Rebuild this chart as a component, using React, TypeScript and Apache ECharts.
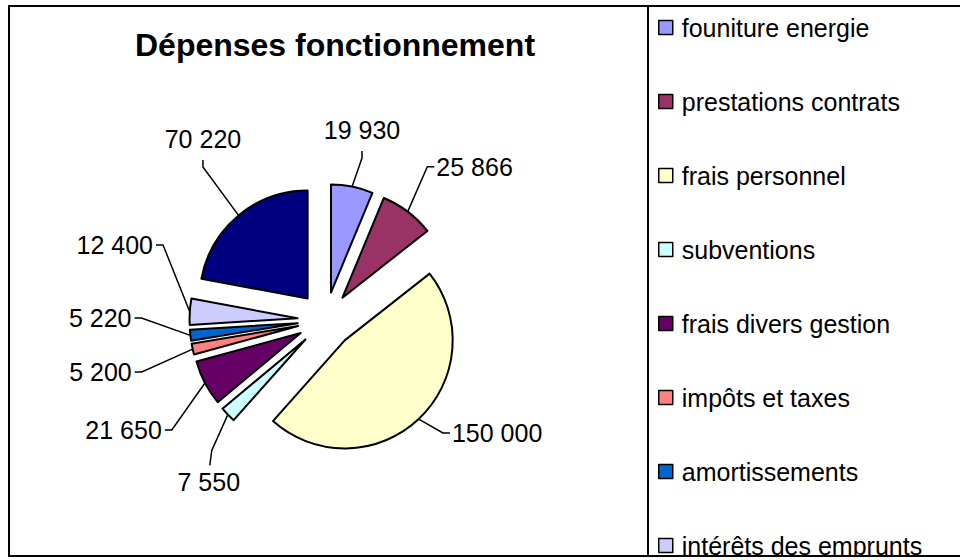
import React, { useEffect, useRef } from "react";
import * as echarts from "echarts";

const categories = [
  "founiture energie",
  "prestations contrats",
  "frais personnel",
  "subventions",
  "frais divers gestion",
  "impôts et taxes",
  "amortissements",
  "intérêts des emprunts",
  "virement investissement",
];
const values = [19930, 25866, 150000, 7550, 21650, 5200, 5220, 12400, 70220];
const colors = ["#9999FF", "#993366", "#FFFFCC", "#CCFFFF", "#660066", "#FF8080", "#0066CC", "#CCCCFF", "#000080"];
const legendNames = categories.slice(0, 8);
const title = "Dépenses fonctionnement";

// Manual label placement (as dragged in the original): angle (deg, clockwise from top) and distance from centre
const labelAngle = [12.7, 33.6, 133.9, 221.1, 234.4, 254.2, 270.6, 294.8, 321.3];
const labelDist = [166, 184, 163, 173, 189, 191, 184, 179, 196];
const labelSide = ["top", "right", "right", "bottom", "left", "left", "left", "left", "top"];

const fmt = (v: number) => String(v).replace(/\B(?=(\d{3})+(?!\d))/g, " ");

export default function App() {
  const ref = useRef<HTMLDivElement>(null);
  useEffect(() => {
    if (!ref.current) return;
    const chart = echarts.init(ref.current, null, { renderer: "svg" });
    const font = "'Liberation Sans', Arial, sans-serif";
    const CX = 325.5;
    const CY = 320;
    const R = 108;
    const OFF = 28;
    const D2R = Math.PI / 180;
    const total = values.reduce((a, b) => a + b, 0);
    const mids: number[] = [];
    let acc = 0;
    values.forEach((v) => {
      mids.push(((acc + v / 2) / total) * 360);
      acc += v;
    });

    const labelGraphics: any[] = [];
    values.forEach((v, i) => {
      const m = mids[i] * D2R;
      const sx = CX + Math.sin(m) * (R + OFF);
      const sy = CY - Math.cos(m) * (R + OFF);
      const a = labelAngle[i] * D2R;
      const ax = CX + Math.sin(a) * labelDist[i];
      const ay = CY - Math.cos(a) * labelDist[i];
      let tx = ax;
      let ty = ay;
      let ex = ax;
      let ey = ay;
      let align = "center";
      const side = labelSide[i];
      if (side === "top") {
        ey = ay - 7;
        ty = ay - 28;
      } else if (side === "bottom") {
        ex = ax - 2;
        ey = ay + 15;
        tx = ax - 3;
        ty = ay + 32;
      } else if (side === "right") {
        ex = ax + 7;
        tx = ax + 9;
        align = "left";
      } else {
        ex = ax - 7;
        tx = ax - 10;
        align = "right";
      }
      labelGraphics.push({
        type: "polyline",
        z: 50,
        silent: true,
        shape: { points: [[sx, sy], [ax, ay], [ex, ey]] },
        style: { stroke: "#000", lineWidth: 1.5, fill: null },
      });
      labelGraphics.push({
        type: "text",
        z: 50,
        silent: true,
        x: tx,
        y: ty,
        style: {
          text: fmt(v),
          font: `25px ${font}`,
          fill: "#000",
          align,
          verticalAlign: "middle",
          textAlign: align,
          textVerticalAlign: "middle",
        },
      });
    });

    chart.setOption({
      animation: false,
      backgroundColor: "#ffffff",
      title: {
        text: title,
        left: 330,
        top: 24,
        textAlign: "center",
        textStyle: { fontFamily: font, fontSize: 32, fontWeight: "bold", color: "#000" },
      },
      legend: {
        orient: "vertical",
        left: 658,
        top: 15,
        height: 900,
        padding: 0,
        data: legendNames,
        icon: "rect",
        itemWidth: 14,
        itemHeight: 14,
        itemGap: 49,
        selectedMode: false,
        itemStyle: { borderColor: "#000", borderWidth: 1.5 },
        textStyle: { fontFamily: font, fontSize: 25, color: "#000", padding: [0, 0, 0, 4] },
      },
      series: [
        {
          type: "pie",
          center: [CX, CY],
          radius: [0, R],
          startAngle: 90,
          clockwise: true,
          selectedMode: "multiple",
          selectedOffset: OFF,
          itemStyle: { borderColor: "#000", borderWidth: 2 },
          emphasis: { disabled: true },
          label: { show: false },
          labelLine: { show: false },
          data: categories.map((n, i) => ({
            name: n,
            value: values[i],
            selected: true,
            itemStyle: { color: colors[i] },
          })),
        },
      ],
      graphic: [
        ...labelGraphics,
        {
          type: "rect",
          z: 100,
          shape: { x: 9, y: 6, width: 1000, height: 550 },
          style: { fill: "none", stroke: "#000", lineWidth: 2 },
          silent: true,
        },
        {
          type: "rect",
          z: 99,
          shape: { x: 0, y: 557, width: 960, height: 5 },
          style: { fill: "#fff" },
          silent: true,
        },
        {
          type: "line",
          z: 100,
          shape: { x1: 648, y1: 6, x2: 648, y2: 556 },
          style: { stroke: "#000", lineWidth: 2 },
          silent: true,
        },
      ],
    });
    return () => chart.dispose();
  }, []);
  return (
    <div
      ref={ref}
      style={{ position: "absolute", left: 0, top: 0, width: 960, height: 560 }}
    />
  );
}
